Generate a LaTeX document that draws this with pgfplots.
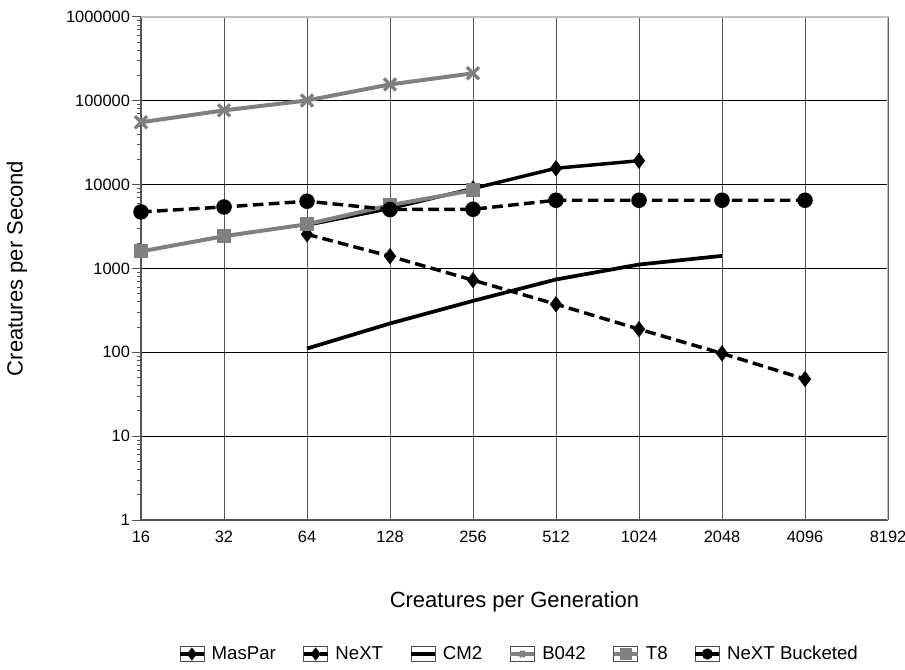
\documentclass[border=0pt]{standalone}
\usepackage{fontspec}
\setmainfont{Liberation Sans}
\usepackage{pgfplots}
\pgfplotsset{compat=1.18}
\usetikzlibrary{plotmarks}
\definecolor{sgray}{HTML}{808080}
\definecolor{agray}{HTML}{555555}
\definecolor{bgray}{HTML}{C0C0C0}
\begin{document}
\begin{tikzpicture}
\useasboundingbox (0,0) rectangle (678.75pt,501.75pt);
\begin{axis}[
  at={(105.75pt,111.75pt)}, anchor=south west,
  width=560.25pt, height=377.25pt, scale only axis,
  xmin=0, xmax=9, xtick={0,...,9},
  xticklabels={16,32,64,128,256,512,1024,2048,4096,8192},
  ymode=log, ymin=1, ymax=1000000,
  ytick={1,10,100,1000,10000,100000,1000000},
  yticklabels={1,10,100,1000,10000,100000,1000000},
  minor ytick={},
  axis lines=left,
  axis line style={-, draw=agray, line width=0.9pt},
  grid=major,
  x grid style={agray, line width=0.75pt},
  y grid style={black, line width=0.6pt},
  tick align=outside,
  major tick length=6.75pt,
  xtick style={draw=none},
  ytick style={agray, line width=0.75pt},
  /pgf/number format/assume math mode=true,
  ticklabel style={font=\fontsize{12.3}{14}\selectfont},
  xticklabel style={yshift=2pt},
  yticklabel style={xshift=2pt},
  xlabel={Creatures per Generation},
  ylabel={Creatures per Second},
  label style={font=\fontsize{16.5}{19}\selectfont},
  xlabel style={at={(axis description cs:0.5,-0.163)}, anchor=center},
  ylabel style={at={(axis description cs:-0.166,0.5)}, anchor=center},
  legend columns=6,
  legend style={draw=none, fill=none, at={(0.5047,-0.2664)}, anchor=center,
    font=\fontsize{14}{16}\selectfont,
    nodes={inner xsep=0pt, inner ysep=2pt},
    /tikz/every even column/.append style={column sep=19.5pt},
    /tikz/every odd column/.append style={column sep=4.5pt}},
  legend image code/.code={
    \draw[black!70, solid, line width=0.6pt, fill=white] (0pt,-5.5pt) rectangle (18pt,5.5pt);
    \draw[mark repeat=2, mark phase=2, #1, mark size=2.8pt] plot coordinates {(0pt,0pt) (9pt,0pt) (18pt,0pt)};
  },
]
\addplot[black, line width=2.6pt, mark=diamond*, mark size=4pt, mark options={solid}]
  coordinates {(2,3300)(3,5200)(4,9000)(5,15700)(6,19300)};
\addlegendentry{MasPar}
\addplot[black, line width=2.6pt, dash pattern=on 8pt off 4pt, mark=diamond*, mark size=4pt, mark options={solid}]
  coordinates {(2,2560)(3,1400)(4,726)(5,375)(6,189)(7,97)(8,48)};
\addlegendentry{NeXT}
\addplot[black, line width=2.8pt]
  coordinates {(2,111)(3,221)(4,411)(5,740)(6,1115)(7,1415)};
\addlegendentry{CM2}
\addplot[sgray, line width=3pt, mark=x, mark size=6.4pt, mark options={solid, line width=2.5pt}]
  coordinates {(0,55500)(1,77000)(2,101000)(3,157000)(4,213000)};
\addlegendentry{B042}
\addplot[sgray, line width=3pt, mark=square*, mark size=3.75pt, mark options={solid}]
  coordinates {(0,1600)(1,2430)(2,3370)(3,5690)(4,8570)};
\addlegendentry{T8}
\addplot[black, line width=2.6pt, dash pattern=on 8pt off 4pt, mark=*, mark size=4.5pt, mark options={solid}]
  coordinates {(0,4730)(1,5420)(2,6340)(3,5050)(4,5090)(5,6520)(6,6520)(7,6520)(8,6520)};
\addlegendentry{NeXT Bucketed}
\draw[bgray, line width=0.9pt] (rel axis cs:0,1) -- (rel axis cs:1,1) -- (rel axis cs:1,0);
\end{axis}
\end{tikzpicture}
\end{document}
